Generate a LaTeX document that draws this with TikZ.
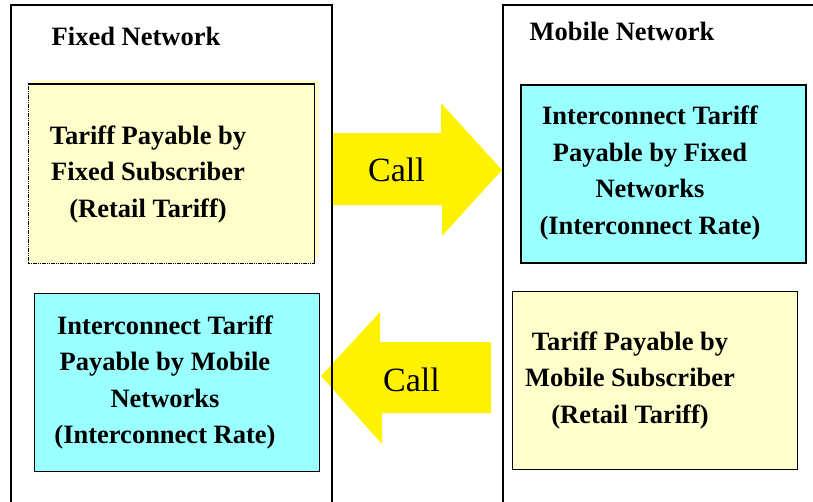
\documentclass[tikz,border=0pt]{standalone}
\usepackage{fontspec}
\setmainfont{Liberation Serif}
\definecolor{retail}{HTML}{FFFFCC}
\definecolor{inter}{HTML}{99FFFF}
\begin{document}
\begin{tikzpicture}[x=1pt,y=-1pt]
\tikzset{
	box/.style={line width=1.3pt, minimum width=285pt, minimum height=178pt},
	ret/.style={box, fill=retail},
	ic/.style={box, draw=black, fill=inter},
	txt/.style={align=center, font=\fontsize{26.5}{36.5}\selectfont\bfseries},
	head/.style={anchor=base, font=\fontsize{26.5}{30}\selectfont\bfseries},
	calltxt/.style={anchor=base, font=\fontsize{34}{40}\selectfont}
}
\useasboundingbox (0,0) rectangle (813,501);

% Fixed network
\node[head] (fix) at (136,45) {Fixed Network};
\fill[retail] (32,80) rectangle (319,258);
\node[ret] (fix_ret) at (171.5,173.5) {};
\draw[line width=1.3pt] (fix_ret.north west) -- (fix_ret.north east) -- (fix_ret.south east);
\draw[line width=1.3pt, dash pattern=on 1.2pt off 0.6pt] (fix_ret.south east) -- (fix_ret.south west) -- (fix_ret.north west);
\node[txt] (fix_ret_t) at (148,174) {Tariff Payable by\\Fixed Subscriber\\(Retail Tariff)};
\node[ic] (fix_ic) at (177,382.5) {};
\node[txt] (fix_ic_t) at (165,382.5) {Interconnect Tariff\\Payable by Mobile\\Networks\\(Interconnect Rate)};

% Mobile network
\node[head] (mob) at (622,40) {Mobile Network};
\node[ic] (mob_ic) at (663.5,174) {};
\node[txt] (mob_ic_t) at (650,173) {Interconnect Tariff\\Payable by Fixed\\Networks\\(Interconnect Rate)};
\node[ret, draw=black] (mob_ret) at (655,380.5) {};
\node[txt] (mob_ret_t) at (630,380) {Tariff Payable by\\Mobile Subscriber\\(Retail Tariff)};

% Call arrows
\fill[yellow] (333,133) -- (441,133) -- (441,103) -- (502,170) -- (442,236) -- (442,205) -- (333,205) -- cycle;
\node[calltxt] (call_1) at (396.5,181) {Call};
\fill[yellow] (491,342) -- (380,342) -- (380,312) -- (321,376) -- (382,444) -- (382,413) -- (491,413) -- cycle;
\node[calltxt] (call_2) at (411.5,391) {Call};

% outer frames
\draw[line width=1.3pt] (11,505) -- (11,5) -- (332,5) -- (332,505);
\draw[line width=1.3pt] (503,505) -- (503,5) -- (817,5);

\end{tikzpicture}
\end{document}
